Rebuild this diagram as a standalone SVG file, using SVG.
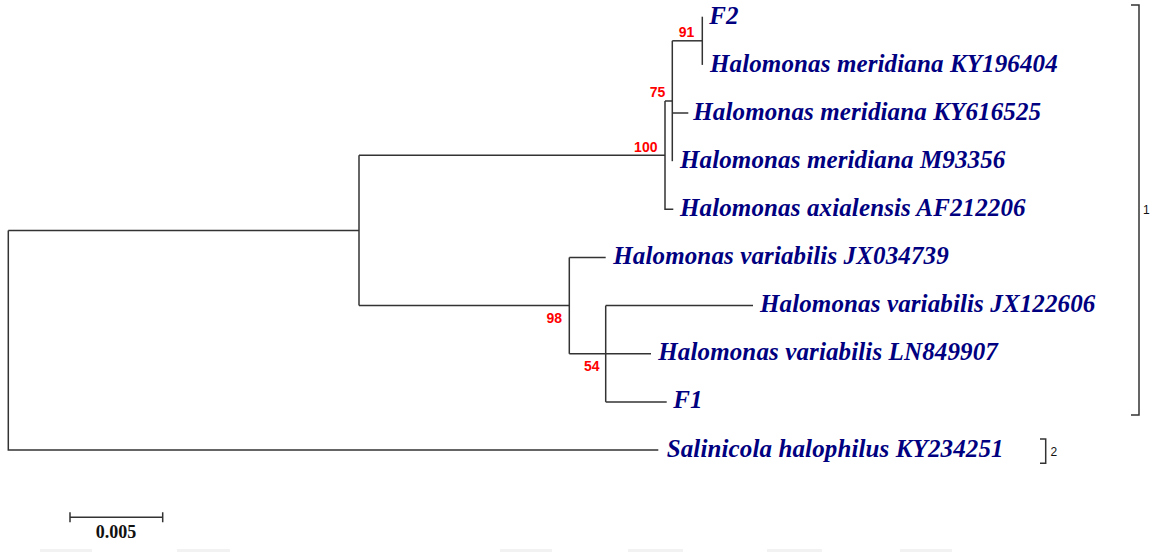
<svg xmlns="http://www.w3.org/2000/svg" width="1159" height="552" viewBox="0 0 1159 552">
  <style>
    .branch { fill: none; stroke: #333333; stroke-width: 1.5; }
    .taxon { font-family: "Liberation Serif", "Times New Roman", serif; font-style: italic; font-weight: bold; font-size: 25px; letter-spacing: 0.12px; fill: #000080; }
    .boot { font-family: "Liberation Sans", Arial, sans-serif; font-weight: bold; font-size: 14px; fill: #ff0000; text-anchor: middle; }
    .group { font-family: "Liberation Sans", Arial, sans-serif; font-size: 12px; fill: #111; }
    .scale { font-family: "Liberation Serif", "Times New Roman", serif; font-weight: bold; font-size: 18px; fill: #111; text-anchor: middle; }
    .strip { fill: #f2f2f2; }
  </style>
  <rect width="1159" height="552" fill="#ffffff"/>

  <!-- tree branches -->
  <g id="connectors" class="branch">
    <path d="M8.3,230.4 V450 H658.3"/>
    <path d="M8.3,230.4 H359"/>
    <path d="M359,155.2 V305.6"/>
    <path d="M359,155.2 H665"/>
    <path d="M665,101 V209.3 H673.3"/>
    <path d="M665,101 H672.3"/>
    <path d="M672.3,40.8 V161.2"/>
    <path d="M672.3,40.8 H702.3"/>
    <path d="M702.3,16.7 V64.9"/>
    <path d="M672.3,113 H688.3"/>
    <path d="M359,305.6 H569.3"/>
    <path d="M569.3,257.5 V353.8"/>
    <path d="M569.3,257.5 H605.7"/>
    <path d="M569.3,353.8 H651"/>
    <path d="M605.7,305.6 V401.9"/>
    <path d="M605.7,305.6 H753"/>
    <path d="M605.7,401.9 H666.7"/>
  </g>

  <!-- taxa -->
  <g id="taxon-F2"><text class="taxon" x="709.3" y="24">F2</text></g>
  <g id="taxon-KY196404"><text class="taxon" x="710" y="71.7">Halomonas meridiana KY196404</text></g>
  <g id="taxon-KY616525"><text class="taxon" x="693.3" y="119.5">Halomonas meridiana KY616525</text></g>
  <g id="taxon-M93356"><text class="taxon" x="680" y="167.7">Halomonas meridiana M93356</text></g>
  <g id="taxon-AF212206"><text class="taxon" x="680" y="215.8">Halomonas axialensis AF212206</text></g>
  <g id="taxon-JX034739"><text class="taxon" x="613.3" y="264">Halomonas variabilis JX034739</text></g>
  <g id="taxon-JX122606"><text class="taxon" x="760" y="312.1">Halomonas variabilis JX122606</text></g>
  <g id="taxon-LN849907"><text class="taxon" x="658.3" y="360.3">Halomonas variabilis LN849907</text></g>
  <g id="taxon-F1"><text class="taxon" x="673.3" y="408.4">F1</text></g>
  <g id="taxon-KY234251"><text class="taxon" x="666.7" y="456.5">Salinicola halophilus KY234251</text></g>

  <!-- bootstrap values -->
  <g id="bootstrap">
    <text class="boot" x="686.5" y="36.7">91</text>
    <text class="boot" x="657.5" y="97.3">75</text>
    <text class="boot" x="645.8" y="151.7">100</text>
    <text class="boot" x="554.3" y="322.7">98</text>
    <text class="boot" x="591.8" y="370.7">54</text>
  </g>

  <!-- group brackets -->
  <g id="group-1">
    <path class="branch" d="M1131,5 H1139 V415 H1131"/>
    <text class="group" x="1143" y="214">1</text>
  </g>
  <g id="group-2">
    <path class="branch" d="M1040,439 H1045.7 V463.3 H1040"/>
    <text class="group" x="1050.5" y="456">2</text>
  </g>

  <!-- scale bar -->
  <g id="scale-bar">
    <path class="branch" d="M70,517.3 H162.7 M70,512.3 V522.3 M162.7,512.3 V522.3"/>
    <text class="scale" x="116" y="538.3">0.005</text>
  </g>

  <!-- faint strip along bottom edge -->
  <g id="bottom-strip">
    <rect class="strip" x="40" y="549" width="52" height="3"/>
    <rect class="strip" x="177" y="549" width="53" height="3"/>
    <rect class="strip" x="500" y="549" width="52" height="3"/>
    <rect class="strip" x="628" y="549" width="55" height="3"/>
    <rect class="strip" x="767" y="549" width="55" height="3"/>
    <rect class="strip" x="900" y="549" width="52" height="3"/>
  </g>
</svg>
